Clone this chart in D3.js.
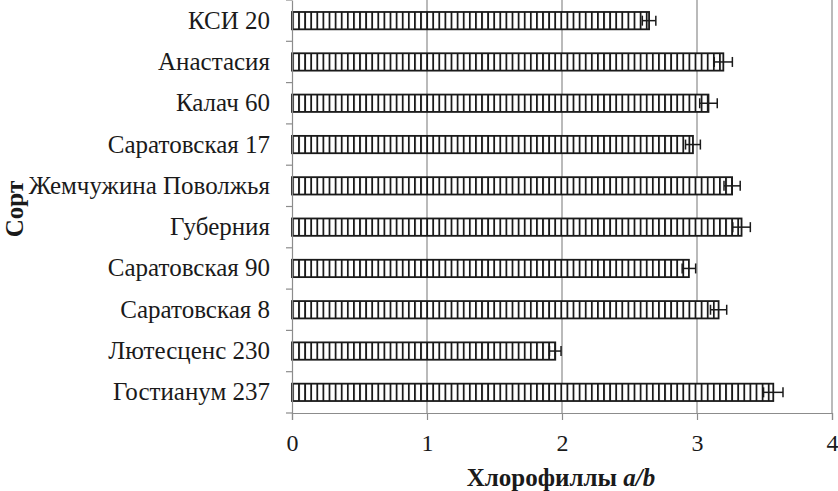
<!DOCTYPE html>
<html><head><meta charset="utf-8">
<script src="https://cdn.jsdelivr.net/npm/d3@7"></script>
<style>body{margin:0;background:#fff}svg{display:block}</style>
</head><body>
<svg id="c" width="838" height="491"></svg>
<script>
const categories = ["КСИ 20","Анастасия","Калач 60","Саратовская 17","Жемчужина Поволжья","Губерния","Саратовская 90","Саратовская 8","Лютесценс 230","Гостианум 237"];
const values = [2.645, 3.195, 3.085, 2.97, 3.26, 3.33, 2.94, 3.16, 1.95, 3.565];
const errors = [0.05, 0.067, 0.065, 0.055, 0.06, 0.065, 0.05, 0.06, 0.043, 0.072];
const xTicks = [0, 1, 2, 3, 4];

const svg = d3.select("#c");
const m = {l: 292, r: 6, t: 0, b: 78};
const W = 838, H = 491;
const x = d3.scaleLinear().domain([0, 4]).range([m.l, W - m.r]);
const y = d3.scaleBand().domain(categories).range([m.t, H - m.b]).paddingInner(0.58).paddingOuter(0.29);
const font = "'Liberation Serif','Times New Roman',serif";

const defs = svg.append("defs");
const pw = 6.1;
const pat = defs.append("pattern").attr("id", "vstripe").attr("patternUnits", "userSpaceOnUse")
  .attr("x", m.l).attr("y", 0).attr("width", pw).attr("height", 10);
pat.append("rect").attr("width", pw).attr("height", 10).attr("fill", "#fff");
pat.append("rect").attr("x", 0).attr("width", 1.8).attr("height", 10).attr("fill", "#1a1a1a");

// gridlines
svg.append("g").selectAll("line").data(xTicks.filter(d => d > 0)).join("line")
  .attr("x1", d => x(d)).attr("x2", d => x(d))
  .attr("y1", m.t).attr("y2", H - m.b)
  .attr("stroke", "#8c8c8c").attr("stroke-width", 1.2);

// bars
svg.append("g").selectAll("rect").data(categories).join("rect")
  .attr("x", x(0)).attr("y", d => y(d))
  .attr("width", (d, i) => x(values[i]) - x(0))
  .attr("height", y.bandwidth())
  .attr("fill", "url(#vstripe)").attr("stroke", "#1a1a1a").attr("stroke-width", 1.8);

// error bars
const eg = svg.append("g").attr("stroke", "#1a1a1a").attr("stroke-width", 1.5);
categories.forEach((c, i) => {
  const cy = y(c) + y.bandwidth() / 2;
  const x1 = x(values[i] - errors[i]), x2 = x(values[i] + errors[i]);
  eg.append("line").attr("x1", x1).attr("x2", x2).attr("y1", cy).attr("y2", cy);
  eg.append("line").attr("x1", x1).attr("x2", x1).attr("y1", cy - 5).attr("y2", cy + 5);
  eg.append("line").attr("x1", x2).attr("x2", x2).attr("y1", cy - 5).attr("y2", cy + 5);
});

// x axis
const xa = svg.append("g").attr("transform", `translate(0,${H - m.b})`)
  .call(d3.axisBottom(x).tickValues(xTicks).tickSize(7).tickPadding(14).tickFormat(d3.format("d")));
xa.select(".domain").attr("stroke", "#8c8c8c").attr("stroke-width", 1.2);
xa.selectAll(".tick line").attr("stroke", "#8c8c8c").attr("stroke-width", 1.2);
xa.selectAll("text").attr("font-family", font).attr("font-size", 24).attr("fill", "#1a1a1a");

// y axis
const ya = svg.append("g").attr("transform", `translate(${m.l},0)`)
  .call(d3.axisLeft(y).tickSize(0).tickPadding(22));
ya.select(".domain").attr("stroke", "#8c8c8c").attr("stroke-width", 1.2);
ya.selectAll("text").attr("font-family", font).attr("font-size", 25).attr("fill", "#1a1a1a");
// tick marks between categories
const bounds = d3.range(categories.length + 1).map(i => m.t + i * y.step());
svg.append("g").selectAll("line").data(bounds).join("line")
  .attr("x1", m.l - 6).attr("x2", m.l).attr("y1", d => d).attr("y2", d => d)
  .attr("stroke", "#8c8c8c").attr("stroke-width", 1.2);

// titles
const xt = svg.append("text").attr("x", 561).attr("y", 486)
  .attr("text-anchor", "middle").attr("font-family", font).attr("font-size", 25)
  .attr("font-weight", "bold").attr("fill", "#1a1a1a");
xt.append("tspan").text("Хлорофиллы ");
xt.append("tspan").attr("font-style", "italic").text("a/b");

svg.append("text").attr("transform", `translate(23,209) rotate(-90)`)
  .attr("text-anchor", "middle").attr("font-family", font).attr("font-size", 25)
  .attr("font-weight", "bold").attr("fill", "#1a1a1a").text("Сорт");
</script>
</body></html>
